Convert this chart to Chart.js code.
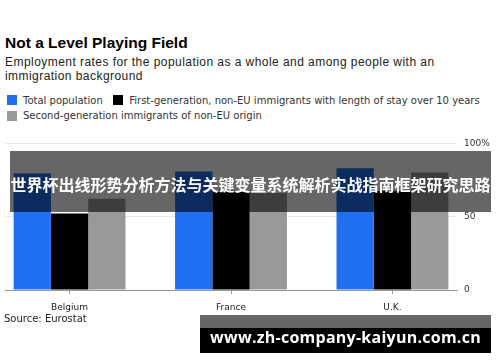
<!DOCTYPE html>
<html>
<head>
<meta charset="utf-8">
<script src="https://cdn.jsdelivr.net/npm/chart.js@4"></script>
<style>
   body { margin: 0; width: 500px; height: 362px; background: #fff; position: relative; overflow: hidden; font-family: "Liberation Sans", Arial, sans-serif; }
   .title { position: absolute; left: 5px; top: 34px; font-size: 15.5px; line-height: 18px; font-weight: bold; color: #000; white-space: nowrap; }
   .subtitle { position: absolute; left: 5px; top: 55px; font-size: 12px; line-height: 14px; color: #222; letter-spacing: 0.45px; white-space: nowrap; }
   #legend { position: absolute; left: 6.5px; top: 92.5px; width: 490px; display: flex; flex-wrap: wrap; font-family: "DejaVu Sans", sans-serif; font-size: 10px; line-height: 15.5px; color: #333; }
   #legend .item { display: flex; align-items: center; margin-right: 10px; white-space: nowrap; }
   #legend .box { width: 10px; height: 10px; margin-right: 6.5px; }
   #chartWrap { position: absolute; left: 0; top: 131px; width: 500px; height: 189px; }
   .source { position: absolute; left: 4px; top: 313px; font-family: "DejaVu Sans", sans-serif; font-size: 10px; line-height: 12px; color: #222; }
   .banner { position: absolute; left: 10px; top: 151px; width: 481px; height: 61px; background: rgba(0, 0, 0, 0.6); }
   .bannerText { position: absolute; left: 10px; top: 176px; width: 481px; text-align: center; font-family: "Noto Sans CJK SC", sans-serif; font-weight: bold; font-size: 16px; line-height: 16px; color: #fff; white-space: nowrap; }
   .mark { position: absolute; left: 200px; top: 315px; width: 291px; height: 13px; background: rgba(0, 0, 0, 0.6); }
   .markBox { position: absolute; left: 200px; top: 328px; width: 291px; height: 25px; background: #000; color: #fff; font-family: "Open Sans", sans-serif; font-weight: bold; font-size: 16px; line-height: 19px; letter-spacing: 0.25px; text-align: center; white-space: nowrap; }
</style>
</head>
<body>
<div class="title">Not a Level Playing Field</div>
<div class="subtitle">Employment rates for the population as a whole and among people with an<br>immigration background</div>
<div id="legend"></div>
<div id="chartWrap"><canvas id="chart"></canvas></div>
<div class="source">Source: Eurostat</div>
<div class="banner"></div>
<div class="bannerText">世界杯出线形势分析方法与关键变量系统解析实战指南框架研究思路</div>
<div class="mark"></div>
<div class="markBox">www.zh-company-kaiyun.com.cn</div>

<script>
const categories = ["Belgium", "France", "U.K."]
const seriesNames = [
   "Total population",
   "First-generation, non-EU immigrants with length of stay over 10 years",
   "Second-generation immigrants of non-EU origin"
]
const seriesColors = ["#1f6ff0", "#000000", "#999999"]

const totalPopulation = [79.5, 80.8, 83.0]
const firstGeneration = [52.1, 66.9, 67.3]
const secondGeneration = [62.2, 66.2, 80.1]

const yTicks = [0, 50, 100]
const yTickLabels = ["0", "50", "100%"]

const seriesValues = [totalPopulation, firstGeneration, secondGeneration]

// легенда в html
const legend = document.querySelector("#legend")
seriesNames.forEach((name, i) => {
   const item = document.createElement("div")
   item.className = "item"
   item.innerHTML = `<span class="box" style="background:${seriesColors[i]}"></span>${name}`
   legend.appendChild(item)
})

new Chart(document.getElementById("chart"), {
   type: "bar",
   data: {
      datasets: seriesValues.map((values, i) => ({
         label: seriesNames[i],
         data: values.map((v, j) => ({ x: j, y: v })),
         backgroundColor: seriesColors[i],
         borderWidth: 0,
         categoryPercentage: 0.693,
         barPercentage: 1
      }))
   },
   options: {
      responsive: true,
      maintainAspectRatio: false,
      animation: false,
      layout: { padding: { left: 5, top: 10, right: 0, bottom: 0 } },
      plugins: {
         legend: { display: false },
         tooltip: { enabled: false }
      },
      scales: {
         x: {
            type: "linear",
            offset: false,
            min: -0.4,
            max: 2.4,
            afterBuildTicks: s => { s.ticks = categories.map((c, i) => ({ value: i })) },
            afterFit: s => { s.height = 30 },
            ticks: {
               callback: v => categories[v],
               font: { family: "DejaVu Sans", size: 9 },
               color: "#222",
               padding: 8,
               maxRotation: 0
            },
            grid: {
               offset: false,
               drawOnChartArea: false,
               tickLength: 4,
               color: "#999"
            },
            border: { color: "#999", width: 1 }
         },
         y: {
            position: "right",
            min: 0,
            max: 100,
            afterBuildTicks: s => { s.ticks = yTicks.map(v => ({ value: v })) },
            afterFit: s => { s.width = 43 },
            ticks: {
               callback: v => yTickLabels[yTicks.indexOf(v)],
               font: { family: "DejaVu Sans", size: 9 },
               color: "#333",
               padding: 7
            },
            grid: {
               drawTicks: false,
               color: "#e8e8e8"
            },
            border: { display: false }
         }
      }
   }
})
</script>
</body>
</html>
